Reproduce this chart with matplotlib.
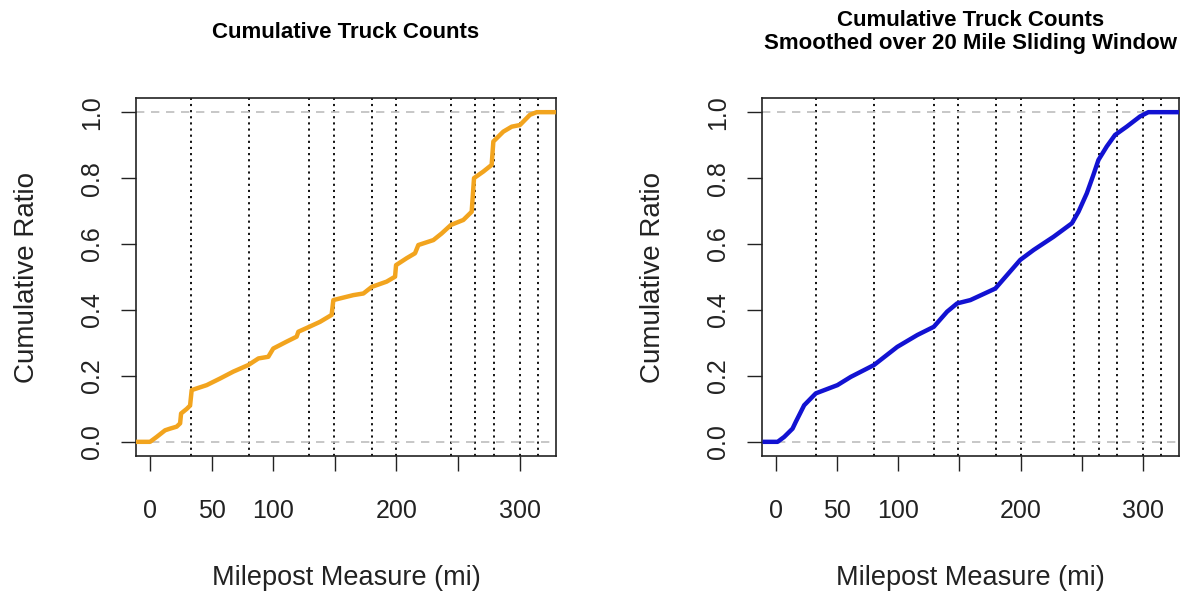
import numpy as np
import matplotlib.pyplot as plt

# raw cumulative truck counts (milepost, cumulative ratio)
raw_mile = [-11.4, 0, 5.4, 12.2, 16.2, 21.6, 24.4, 25.2, 29.8, 32.5, 33.8, 37.9, 46, 56.8, 67.6,
            79.8, 88, 96, 100, 110.9, 119, 120.4, 129.3, 138, 147.4, 148.8, 154.2, 165, 173.2,
            180, 192.1, 198.9, 199.7, 208.3, 215.1, 217.8, 230, 236.7, 244.3, 254.3, 261.1,
            263, 270.6, 277.3, 278.7, 286.8, 293.6, 300.3, 308.4, 313.9, 329.5]
raw_ratio = [0, 0, 0.015, 0.035, 0.04, 0.046, 0.056, 0.086, 0.10, 0.11, 0.157, 0.162, 0.172,
             0.192, 0.213, 0.233, 0.253, 0.258, 0.283, 0.304, 0.319, 0.334, 0.349, 0.364, 0.385,
             0.43, 0.435, 0.445, 0.45, 0.47, 0.486, 0.501, 0.536, 0.557, 0.572, 0.597, 0.612,
             0.632, 0.658, 0.673, 0.698, 0.80, 0.82, 0.84, 0.911, 0.941, 0.956, 0.961, 0.992,
             1.0, 1.0]

# smoothed over 20 mile sliding window
smooth_mile = [-10.9, 1.4, 6.8, 13.6, 16.3, 23.1, 32.6, 50.3, 61.2, 80.2, 99.2, 115.6, 129.1,
               140, 148.2, 159, 179.4, 189, 199.8, 210.7, 227, 242, 247.4, 254.2, 259.6, 263.7,
               270.5, 277.3, 286.8, 297.7, 304.5, 329.5]
smooth_ratio = [0, 0, 0.015, 0.04, 0.061, 0.111, 0.147, 0.172, 0.197, 0.233, 0.288, 0.324,
                0.349, 0.395, 0.42, 0.43, 0.465, 0.506, 0.552, 0.582, 0.622, 0.663, 0.698,
                0.754, 0.81, 0.855, 0.896, 0.931, 0.956, 0.987, 1.0, 1.0]

# district boundaries (vertical dotted lines)
bounds = [33, 80, 129, 149, 180, 200, 244, 264, 279, 300, 315]

x_ticks = [0, 50, 100, 150, 200, 250, 300]
x_labels = ['0', '50', '100', '', '200', '', '300']
y_ticks = [0.0, 0.2, 0.4, 0.6, 0.8, 1.0]

plt.rcParams['font.family'] = ['Liberation Sans', 'DejaVu Sans']

fig = plt.figure(figsize=(11.93, 5.95), dpi=100)
ax1 = fig.add_axes([0.114, 0.2336, 0.352, 0.6017])
ax2 = fig.add_axes([0.6387, 0.2336, 0.3495, 0.6017])

panels = [(ax1, raw_mile, raw_ratio, '#F2A41E', 'Cumulative Truck Counts'),
          (ax2, smooth_mile, smooth_ratio, '#1212D2',
           'Cumulative Truck Counts\nSmoothed over 20 Mile Sliding Window')]

for ax, xs, ys, col, title in panels:
    for b in bounds:
        ax.axvline(b, color='black', linestyle=(0, (1.2, 2.2)), linewidth=1.3, zorder=1)
    for h in [0, 1]:
        ax.axhline(h, color='#BEBEBE', linestyle=(0, (5, 4)), linewidth=1.2, zorder=1)
    ax.plot(xs, ys, color=col, linewidth=3.2, zorder=3, solid_capstyle='butt')
    ax.set_xlim(-11.4, 329.5)
    ax.set_ylim(-0.043, 1.043)
    ax.set_xticks(x_ticks)
    ax.set_xticklabels(x_labels)
    ax.set_yticks(y_ticks)
    ax.set_yticklabels(['%.1f' % v for v in y_ticks], rotation=90, va='center')
    ax.tick_params(direction='out', length=11, width=1, labelsize=18, colors='#222222')
    ax.tick_params(axis='x', pad=20)
    ax.tick_params(axis='y', pad=12)
    for s in ax.spines.values():
        s.set_linewidth(1.2)
        s.set_color('#222222')
    ax.set_xlabel('Milepost Measure (mi)', fontsize=19.5, labelpad=30, color='#222222')
    ax.set_ylabel('Cumulative Ratio', fontsize=20, labelpad=29, color='#222222')
    # title centred at same height for one- and two-line versions
    bb = ax.get_position()
    fig.text((bb.x0 + bb.x1) / 2, 1 - 32 / 595, title, ha='center', va='center',
             fontsize=16, fontweight='bold', linespacing=1.12)

fig.savefig('out.png', dpi=100)
